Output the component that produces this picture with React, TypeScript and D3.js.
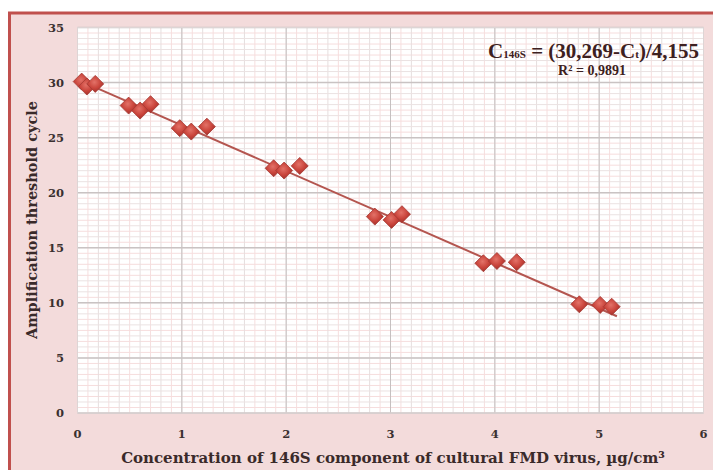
import React, { useEffect, useRef } from "react";
import * as d3 from "d3";

const concentration = [0.04, 0.09, 0.17, 0.49, 0.6, 0.7, 0.98, 1.09, 1.24, 1.88, 1.98, 2.13, 2.85, 3.01, 3.11, 3.89, 4.02, 4.21, 4.81, 5.01, 5.12];
const thresholdCycle = [30.09, 29.64, 29.88, 27.91, 27.46, 28.04, 25.86, 25.55, 26.0, 22.22, 22.01, 22.43, 17.83, 17.53, 18.05, 13.6, 13.8, 13.69, 9.87, 9.81, 9.65];
const xTicks = [0, 1, 2, 3, 4, 5, 6];
const yTicks = [0, 5, 10, 15, 20, 25, 30, 35];
const fitIntercept = 30.269;
const fitSlope = -4.155;
const fitRange = [0, 5.17];
const xTitle = "Concentration of 146S component of cultural FMD virus, µg/cm³";
const yTitle = "Amplification threshold cycle";

const W = 713;
const H = 470;

export default function App() {
  const ref = useRef<SVGSVGElement>(null);
  useEffect(() => {
    const svg = d3.select(ref.current);
    svg.selectAll("*").remove();

    const x = d3.scaleLinear().domain([0, 6]).range([77.5, 703.5]);
    const y = d3.scaleLinear().domain([0, 35]).range([413, 27.5]);

    const defs = svg.append("defs");
    const g = defs.append("radialGradient").attr("id", "dia").attr("cx", "45%").attr("cy", "40%").attr("r", "60%");
    g.append("stop").attr("offset", "0%").attr("stop-color", "#e37268");
    g.append("stop").attr("offset", "60%").attr("stop-color", "#c9443b");
    g.append("stop").attr("offset", "100%").attr("stop-color", "#a3322c");

    // outer frame
    svg.append("rect").attr("x", 0).attr("y", 0).attr("width", W).attr("height", H).attr("fill", "#ffffff");
    svg.append("rect").attr("x", 8).attr("y", 12).attr("width", W - 8).attr("height", H - 12).attr("fill", "#f3dbdb");
    svg.append("line").attr("x1", 8).attr("x2", W).attr("y1", 13).attr("y2", 13).attr("stroke", "#c0504d").attr("stroke-width", 3);
    svg.append("line").attr("x1", 9.5).attr("x2", 9.5).attr("y1", 12).attr("y2", H).attr("stroke", "#c0504d").attr("stroke-width", 3);

    // plot area
    const [x0, x1] = x.range();
    const [y0, y1] = y.range();
    svg.append("rect").attr("x", x0).attr("y", y1).attr("width", x1 - x0).attr("height", y0 - y1).attr("fill", "#ffffff");

    const grid = svg.append("g");
    // pink finest
    d3.range(0.1, 6, 0.2).forEach((v) => {
      grid.append("line").attr("x1", x(v)).attr("x2", x(v)).attr("y1", y1).attr("y2", y0).attr("stroke", "#f6dede").attr("stroke-width", 1);
    });
    d3.range(0.5, 35, 1).forEach((v) => {
      grid.append("line").attr("x1", x0).attr("x2", x1).attr("y1", y(v)).attr("y2", y(v)).attr("stroke", "#f6dddd").attr("stroke-width", 1);
    });
    // light gray
    d3.range(0.2, 6, 0.2).forEach((v) => {
      grid.append("line").attr("x1", x(v)).attr("x2", x(v)).attr("y1", y1).attr("y2", y0).attr("stroke", "#e6dede").attr("stroke-width", 1);
    });
    d3.range(1, 35, 1).forEach((v) => {
      grid.append("line").attr("x1", x0).attr("x2", x1).attr("y1", y(v)).attr("y2", y(v)).attr("stroke", "#ebe2e2").attr("stroke-width", 1);
    });
    // major
    xTicks.forEach((v) => {
      grid.append("line").attr("x1", x(v)).attr("x2", x(v)).attr("y1", y1).attr("y2", y0).attr("stroke", "#c6c0c0").attr("stroke-width", 1);
    });
    yTicks.forEach((v) => {
      grid.append("line").attr("x1", x0).attr("x2", x1).attr("y1", y(v)).attr("y2", y(v)).attr("stroke", "#c9c3c3").attr("stroke-width", 1.5);
    });
    svg.append("rect").attr("x", x0).attr("y", y1).attr("width", x1 - x0).attr("height", y0 - y1).attr("fill", "none").attr("stroke", "#ddd5d5");

    // tick labels
    const tickFont = "'DejaVu Serif', serif";
    svg.append("g").selectAll("text").data(xTicks).join("text")
      .attr("x", (d) => x(d)).attr("y", 438).attr("text-anchor", "middle")
      .attr("font-family", tickFont).attr("font-weight", "bold").attr("font-size", 11.5).attr("fill", "#3a3030")
      .text((d) => String(d));
    svg.append("g").selectAll("text").data(yTicks).join("text")
      .attr("x", 64).attr("y", (d) => y(d) + 4).attr("text-anchor", "end")
      .attr("font-family", tickFont).attr("font-weight", "bold").attr("font-size", 11.5).attr("fill", "#3a3030")
      .text((d) => String(d));

    // axis titles
    svg.append("text").attr("x", 393).attr("y", 463).attr("text-anchor", "middle")
      .attr("font-family", tickFont).attr("font-weight", "bold").attr("font-size", 15).attr("fill", "#3a2a2a")
      .text(xTitle);
    svg.append("text").attr("transform", `translate(37,${220}) rotate(-90)`).attr("text-anchor", "middle")
      .attr("font-family", tickFont).attr("font-weight", "bold").attr("font-size", 14.5).attr("fill", "#3a2a2a")
      .text(yTitle);

    // fit line
    const line = d3.line<number>().x((d) => x(d)).y((d) => y(fitIntercept + fitSlope * d));
    svg.append("path").datum(fitRange).attr("d", line).attr("stroke", "#b4554f").attr("stroke-width", 2).attr("fill", "none");

    // points
    const pts = concentration.map((c, i) => [c, thresholdCycle[i]]);
    svg.append("g").selectAll("path").data(pts).join("path")
      .attr("transform", (d) => `translate(${x(d[0])},${y(d[1])})`)
      .attr("d", "M0,-8.5L8.5,0L0,8.5L-8.5,0Z")
      .attr("fill", "url(#dia)").attr("stroke", "#a53a33").attr("stroke-width", 0.8);

    // equation
    const eq = svg.append("text").attr("x", 699).attr("y", 58).attr("text-anchor", "end")
      .attr("font-family", "'Liberation Serif', serif").attr("font-weight", "bold").attr("font-size", 21).attr("fill", "#3d2020");
    eq.append("tspan").text("C");
    eq.append("tspan").attr("font-size", 11).text("146S");
    eq.append("tspan").text(" = (30,269-C");
    eq.append("tspan").attr("font-size", 11).text("t");
    eq.append("tspan").text(")/4,155");
    svg.append("text").attr("x", 592).attr("y", 75).attr("text-anchor", "middle")
      .attr("font-family", "'Liberation Serif', serif").attr("font-weight", "bold").attr("font-size", 14).attr("fill", "#3d2020")
      .text("R² = 0,9891");
  }, []);
  return <svg ref={ref} width={W} height={H} style={{ position: "absolute", left: 0, top: 0 }} />;
}
